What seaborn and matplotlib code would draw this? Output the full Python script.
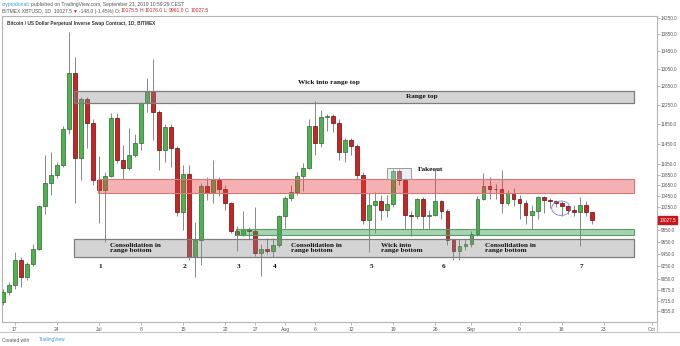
import numpy as np
import pandas as pd
import matplotlib
matplotlib.use("Agg")
import matplotlib.pyplot as plt
import seaborn as sns
from matplotlib.patches import Rectangle
from matplotlib.lines import Line2D
from matplotlib.ticker import NullLocator, FixedLocator
from matplotlib.transforms import blended_transform_factory

# ---------------------------------------------------------------- data
start_date = "2019-06-15"

opens = [8700, 8853, 8956, 9354, 9076, 9289, 9535, 10281, 10689, 10838,
         11035, 11755, 12942, 11163, 12377, 11864, 10751, 10565, 10832, 11982,
         11140, 10984, 11228, 11472, 12284, 12550, 12093, 11326, 11795, 11359,
         10175, 10864, 9409, 9686, 10639, 10504, 10751, 10578, 10323, 9830,
         9774, 9870, 9840, 9467, 9533, 9500, 9600, 10090, 10417, 10520,
         10817, 10975, 11813, 11463, 11993, 12020, 11868, 11278, 11529, 11396,
         10848, 10020, 10296, 10357, 10207, 10315, 10924, 10754, 10119, 10090,
         10399, 10100, 10119, 10357, 10178, 9689, 9494, 9577, 9610, 9778,
         10404, 10636, 10587, 10580, 10320, 10513, 10404, 10320, 10107, 10183,
         10440, 10380, 10360, 10320, 10272, 10201, 10166, 10284, 10175.5]

closes = [8853, 8956, 9354, 9076, 9289, 9535, 10281, 10689, 10838, 11035,
          11755, 12942, 11163, 12377, 11864, 10751, 10565, 10832, 11982, 11140,
          10984, 11228, 11472, 12284, 12550, 12093, 11326, 11795, 11359, 10175,
          10864, 9409, 9686, 10639, 10504, 10751, 10578, 10323, 9830, 9774,
          9870, 9840, 9467, 9533, 9500, 9600, 10090, 10417, 10520, 10817,
          10975, 11813, 11463, 11993, 12020, 11868, 11278, 11529, 11396, 10848,
          10020, 10296, 10357, 10207, 10315, 10924, 10754, 10119, 10090, 10399,
          10100, 10119, 10357, 10178, 9689, 9494, 9577, 9610, 9778, 10404,
          10636, 10587, 10580, 10320, 10513, 10404, 10320, 10107, 10183, 10440,
          10380, 10360, 10320, 10272, 10201, 10166, 10284, 10175.5, 10027.5]

highs = [8900, 9010, 9491, 9409, 9320, 9610, 10300, 11228, 11281, 11098,
         11800, 13915, 13323, 12427, 12410, 11950, 11207, 10907, 12072, 12072,
         11424, 11763, 11646, 12320, 12830, 13261, 12150, 11860, 11860, 11400,
         11035, 11035, 10000, 10700, 10810, 11131, 10810, 10650, 10350, 9930,
         10178, 9900, 10260, 9620, 9720, 9720, 10120, 10460, 10661, 10900,
         11080, 11950, 12324, 12140, 12060, 12060, 11950, 11560, 11560, 11450,
         10900, 10508, 10530, 10480, 10470, 10960, 10960, 10790, 10180, 10420,
         10440, 10200, 10963, 10380, 10220, 9700, 9700, 9700, 9830, 10450,
         10885, 10800, 10680, 10946, 10560, 10600, 10480, 10380, 10290, 10460,
         10460, 10420, 10380, 10360, 10290, 10300, 10440, 10360, 10176.0]

lows = [8650, 8800, 8900, 8930, 9040, 9250, 9520, 10126, 10474, 10790,
        11000, 11646, 10323, 10751, 11360, 10650, 9970, 9658, 10800, 11066,
        10770, 10930, 11180, 11326, 12107, 11525, 10940, 11100, 11000, 10100,
        9855, 9350, 9087, 9273, 10375, 10323, 10450, 10205, 9800, 9500,
        9750, 9700, 9412, 9090, 9450, 9400, 9570, 9887, 10370, 10480,
        10550, 10960, 11226, 11380, 11700, 11680, 11135, 11100, 11230, 10754,
        9950, 9479, 9800, 10020, 10080, 10250, 10660, 9870, 9748, 10050,
        9880, 9880, 10100, 10050, 9600, 9350, 9360, 9520, 9560, 9760,
        10380, 10400, 10400, 10150, 10290, 10280, 10050, 9950, 9864, 10050,
        10150, 10240, 10250, 10100, 10140, 10100, 9582, 10100, 9961.0]

# horizontal levels (price bands)
range_top = [12289, 12554]
resistance = [10504, 10764]
support = [9770, 9878]
range_bottom = [9406, 9705]
fakeout_band = [10764, 10984]
last_price = 10027.5

tick_dates = ["2019-06-17", "2019-06-24", "2019-07-01", "2019-07-08", "2019-07-15",
              "2019-07-22", "2019-07-27", "2019-08-01", "2019-08-06", "2019-08-12",
              "2019-08-19", "2019-08-26", "2019-09-01", "2019-09-09", "2019-09-16",
              "2019-09-23", "2019-10-01"]
tick_labels = ["17", "24", "Jul", "8", "15", "22", "27", "Aug", "6", "12",
               "19", "26", "Sep", "9", "16", "23", "Oct"]
price_ticks = [14250, 13850, 13450, 13050, 12650, 12250, 11850, 11450, 11050,
               10850, 10650, 10450, 10250, 9850, 9650, 9450, 9250, 9050,
               8875, 8715, 8555]

# ---------------------------------------------------------------- frame
W, H = 680, 346
sns.set_theme(style="white")
plt.rcParams["font.family"] = ["Liberation Sans", "DejaVu Sans"]

df = pd.DataFrame({"date": pd.date_range(start_date, periods=len(opens)),
                   "open": opens, "high": highs, "low": lows, "close": closes})
df["x"] = np.arange(len(df))
df["up"] = df["close"] >= df["open"]

fig = plt.figure(figsize=(W / 100, H / 100), dpi=100)
fig.patch.set_facecolor("white")
ax = fig.add_axes([2 / W, 24 / H, 655 / W, 306 / H])
ax.set_facecolor("white")

GREEN, GREEN_EDGE = "#4db24f", "#2d6a2d"
RED, RED_EDGE = "#cc2222", "#5e1010"

# wicks
ax.vlines(df["x"], df["low"], df["high"], color="#808080", lw=0.65, zorder=2)
# bodies
for up, fc, ec in [(True, GREEN, GREEN_EDGE), (False, RED, RED_EDGE)]:
    d = df[df["up"] == up]
    lo = np.minimum(d["open"], d["close"])
    hi = np.maximum(d["open"], d["close"])
    ax.bar(d["x"], hi - lo, bottom=lo, width=0.64, color=fc,
           edgecolor=ec, linewidth=0.5, zorder=3)

ax.set_yscale("log")
ax.set_ylim(8397, 14300)
ax.set_xlim(-0.12, 108.87)

# ---------------------------------------------------------------- bands
def band(x0, x1, lvl, face, alpha, edge, lw=0.9):
    ax.add_patch(Rectangle((x0, lvl[0]), x1 - x0, lvl[1] - lvl[0],
                           facecolor=matplotlib.colors.to_rgba(face, alpha),
                           edgecolor=edge, lw=lw, zorder=4))

band(11.86, 105.0, range_top, "#8a8a8a", 0.36, "#7d7d7d")
band(15.86, 105.0, resistance, "#e63c3c", 0.40, "#d27a7a", 0.8)
band(38.9, 105.0, support, "#3ca050", 0.45, "#5d9a6a", 0.8)
band(11.86, 105.0, range_bottom, "#8a8a8a", 0.36, "#7d7d7d")
band(63.9, 68.0, fakeout_band, "#c8d2e0", 0.35, "#9a9a9a", 0.7)

# hand circle around the mid-September candles
tt = np.linspace(0.15 * np.pi, 2.05 * np.pi, 80)
cx, cy = 92.9, 10235
ax.plot(cx + 1.55 * np.cos(tt), cy * np.exp(0.0125 * np.sin(tt)),
        color="#8878d8", lw=0.6, zorder=6)

# ---------------------------------------------------------------- notes
note = dict(fontfamily=["Liberation Serif", "DejaVu Serif"], fontweight="bold",
            fontsize=5.2, color="#111111", zorder=7, linespacing=1.05)
ax.text(54.3, 12731, "Wick into range top", ha="center", va="center", **note)
ax.text(69.8, 12424, "Range top", ha="center", va="center", **note)
ax.text(69.1, 10950, "Fakeout", ha="left", va="center", **note)
ax.text(17.8, 9545, "Consolidation in\nrange bottom", ha="left", va="center", **note)
ax.text(48.0, 9555, "Consolidation in\nrange bottom", ha="left", va="center", **note)
ax.text(63.0, 9555, "Wick into\nrange bottom", ha="left", va="center", **note)
ax.text(80.2, 9545, "Consolidation in\nrange bottom", ha="left", va="center", **note)
for lbl, xi in zip(["1", "2", "3", "4", "5", "6", "7"],
                   [16.2, 30.2, 39.3, 45.3, 61.4, 73.3, 96.3]):
    ax.text(xi, 9242, lbl, ha="center", va="center", **note)

# ---------------------------------------------------------------- axes
for s in ax.spines.values():
    s.set_color("#b4b4b4")
    s.set_linewidth(0.8)

base = pd.Timestamp(start_date)
tick_pos = [(pd.Timestamp(d) - base).days for d in tick_dates]
ax.xaxis.set_major_locator(FixedLocator(tick_pos))
ax.set_xticklabels(tick_labels)
ax.yaxis.tick_right()
ax.set_yticks(price_ticks)
ax.set_yticklabels([f"{v:.1f}" for v in price_ticks])
ax.yaxis.set_minor_locator(NullLocator())
ax.tick_params(axis="x", length=2, width=0.5, color="#999999", labelsize=3.6,
               labelcolor="#555555", pad=1.5, bottom=True)
ax.tick_params(axis="y", length=2, width=0.5, color="#999999", labelsize=3.3,
               labelcolor="#555555", pad=1, right=True, left=False)
ax.set_xlabel("")
ax.set_ylabel("")
ax.grid(False)

# last price tag on the price scale
bt = blended_transform_factory(ax.transAxes, ax.transData)
ax.text(1.004, last_price, f"{last_price:.1f}", transform=bt, ha="left",
        va="center", fontsize=3.3, color="white", zorder=8, clip_on=False,
        bbox=dict(boxstyle="square,pad=0.25", fc="#c8171c", ec="#c8171c"))

# date-scale bottom rule
fig.add_artist(Line2D([0, 1], [1 - 332 / H] * 2, color="#c4c4c4", lw=0.8))
fig.add_artist(Line2D([657 / W] * 2, [1 - 332 / H, 1 - 322 / H], color="#c4c4c4", lw=0.8))

# ---------------------------------------------------------------- header / footer
renderer = fig.canvas.get_renderer()


def run(x_px, y_px, parts, size, weight="normal"):
    x = x_px
    for s, c, gap in parts:
        t = fig.text(x / W, 1 - y_px / H, s, color=c, fontsize=size,
                     ha="left", va="center", fontweight=weight)
        x += t.get_window_extent(renderer).width + gap


GREY = "#555555"
REDT = "#d0202a"
BLUE = "#3d9ad8"
run(2, 4.5, [("cryptodonalt", BLUE, 1.2),
             ("published on TradingView.com, September 21, 2019 10:59:29 CEST", GREY, 0)], 3.6)
run(2, 11, [("BITMEX:XBTUSD, 1D  10027.5", GREY, 1.2),
            ("\u25bc", REDT, 1.2),
            ("-148.0 (-1.45%) O:", GREY, 0.3), ("10175.5", REDT, 1.0),
            ("H:", GREY, 0.3), ("10176.0", REDT, 1.0),
            ("L:", GREY, 0.3), ("9961.0", REDT, 1.0),
            ("C:", GREY, 0.3), ("10027.5", REDT, 0)], 3.6)
run(7, 23.5, [("Bitcoin / US Dollar Perpetual Inverse Swap Contract, 1D, BITMEX", "#333333", 0)],
    3.4, weight="bold")
run(2, 340, [("Created with", GREY, 10), ("TradingView", BLUE, 0)], 3.4)

fig.savefig("out.png", dpi=100, facecolor="white")
